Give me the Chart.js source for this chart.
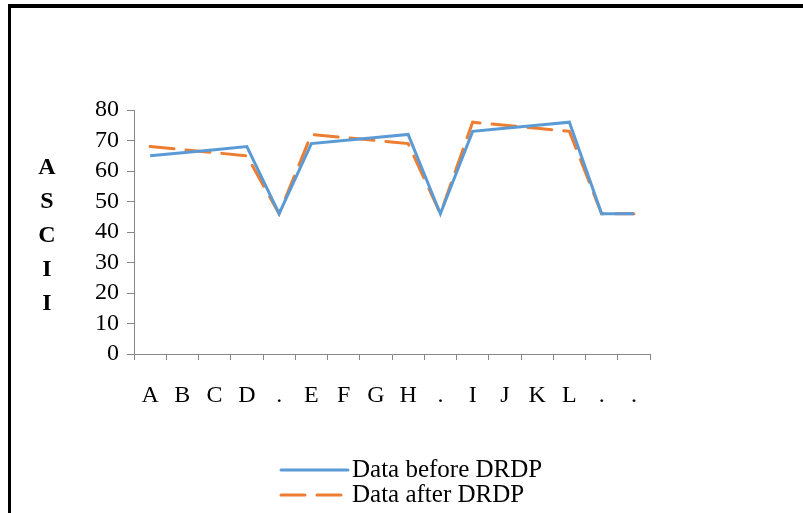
<!DOCTYPE html>
<html>
<head>
<meta charset="utf-8">
<script src="https://cdn.jsdelivr.net/npm/chart.js@4.4.0/dist/chart.umd.min.js"></script>
<style>
  html, body { margin: 0; padding: 0; background: #fff; }
  #wrap { position: relative; width: 803px; height: 513px; overflow: hidden; }
  #frame {
    position: absolute; left: 8px; top: 4px; width: 900px; height: 600px;
    border-top: 4px solid #000; border-left: 3px solid #000;
  }
  canvas { position: absolute; left: 0; top: 0; }
</style>
</head>
<body>
<div id="wrap">
  <div id="frame"></div>
  <canvas id="asciiChart" width="803" height="513"></canvas>
</div>
<script>
// chart data
const categories = ['A', 'B', 'C', 'D', '.', 'E', 'F', 'G', 'H', '.', 'I', 'J', 'K', 'L', '.', '.'];
const beforeValues = [65, 66, 67, 68, 46, 69, 70, 71, 72, 46, 73, 74, 75, 76, 46, 46];
const afterValues = [68, 67, 66, 65, 46, 72, 71, 70, 69, 46, 76, 75, 74, 73, 46, 46];
const yTicks = [0, 10, 20, 30, 40, 50, 60, 70, 80];
const yTitle = ['A', 'S', 'C', 'I', 'I'];

const serif = '"Liberation Serif", "Times New Roman", serif';
const axisGray = '#868686';

// vertical stacked axis title + custom legend
const extras = {
    id: 'extras',
    afterDraw(chart) {
        const ctx = chart.ctx;
        ctx.save();
        ctx.fillStyle = '#000';
        ctx.textAlign = 'center';
        ctx.textBaseline = 'middle';
        ctx.font = 'bold 24px ' + serif;
        yTitle.forEach((ch, i) => ctx.fillText(ch, 47, 168 + i * 34));

        ctx.font = '25px ' + serif;
        ctx.textAlign = 'left';
        chart.data.datasets.forEach((ds, i) => {
            const y = 470 + i * 25;
            ctx.strokeStyle = ds.borderColor;
            ctx.lineWidth = 3;
            ctx.lineCap = 'round';
            ctx.setLineDash(ds.borderDash || []);
            ctx.beginPath();
            ctx.moveTo(281, y);
            ctx.lineTo(348, y);
            ctx.stroke();
            ctx.setLineDash([]);
            ctx.fillText(ds.label, 352, y);
        });
        ctx.restore();
    }
};

new Chart(document.getElementById('asciiChart'), {
    type: 'line',
    data: {
        labels: categories,
        datasets: [{
            label: 'Data before DRDP',
            data: beforeValues,
            borderColor: '#5B9BD5',
            borderWidth: 3,
            pointRadius: 0,
            tension: 0
        }, {
            label: 'Data after DRDP',
            data: afterValues,
            borderColor: '#ED7D31',
            borderWidth: 3,
            borderDash: [24, 12],
            borderCapStyle: 'round',
            pointRadius: 0,
            tension: 0
        }]
    },
    options: {
        responsive: false,
        animation: false,
        layout: { padding: { top: 110, right: 153, bottom: 0, left: 0 } },
        plugins: { legend: { display: false }, tooltip: { enabled: false } },
        scales: {
            x: {
                offset: true,
                grid: { offset: true, drawOnChartArea: false, tickLength: 6, color: axisGray },
                border: { color: axisGray },
                ticks: { color: '#000', font: { family: serif, size: 24 }, padding: 21, maxRotation: 0, autoSkip: false },
                afterFit(scale) { scale.height = 159; }
            },
            y: {
                min: 0,
                max: 80,
                afterBuildTicks(scale) { scale.ticks = yTicks.map(v => ({ value: v })); },
                grid: { drawOnChartArea: false, tickLength: 7, color: axisGray },
                border: { color: axisGray },
                ticks: { color: '#000', font: { family: serif, size: 24, lineHeight: 1 }, padding: 8, autoSkip: false },
                afterFit(scale) { scale.width = 134; }
            }
        }
    },
    plugins: [extras]
});
</script>
</body>
</html>
